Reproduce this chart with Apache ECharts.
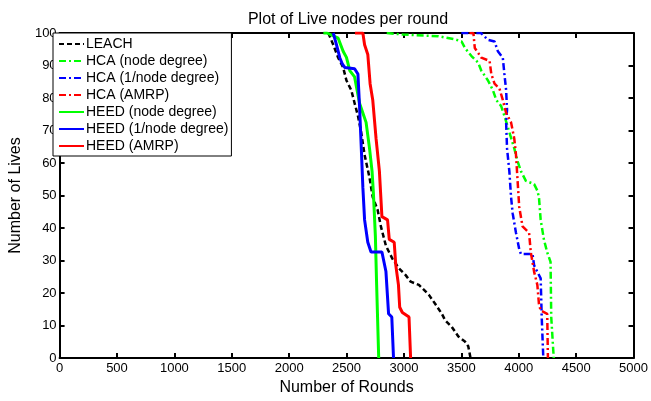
<!DOCTYPE html>
<html>
<head>
<meta charset="utf-8">
<script src="https://cdn.jsdelivr.net/npm/echarts@6/dist/echarts.min.js"></script>
<style>
html,body{margin:0;padding:0;background:#fff;}
#c{width:651px;height:401px;}
</style>
</head>
<body>
<div id="c"></div>
<script>
var seriesNames = ['LEACH','HCA (node degree)','HCA (1/node degree)','HCA (AMRP)','HEED (node degree)','HEED (1/node degree)','HEED (AMRP)'];
var xTicks = [0,500,1000,1500,2000,2500,3000,3500,4000,4500,5000];
var yTicks = [0,10,20,30,40,50,60,70,80,90,100];

var leach = [[2341,100],[2384,96.4],[2427,92.4],[2470,89.4],[2499,85.4],[2541,82.4],[2570,78.4],[2599,74.5],[2627,69.5],[2657,62.5],[2700,55.5],[2728,49.5],[2771,45.5],[2799,40.5],[2843,34.5],[2900,30.5],[2958,27.5],[3015,25.5],[3058,23.5],[3130,22.5],[3216,19.5],[3273,16.6],[3330,13.6],[3359,11.6],[3416,9.6],[3474,6.6],[3531,5.1],[3560,3.6],[3580,0]];
var hcaNode = [[2850,100],[3000,99.5],[3300,99],[3450,98],[3502,97.4],[3531,95.4],[3588,92.9],[3646,90.9],[3674,88.4],[3732,85.4],[3775,82.4],[3804,79.4],[3847,77.5],[3875,74.5],[3918,69.5],[3961,64.5],[3990,60.5],[4019,57.5],[4062,54.5],[4134,53.5],[4162,51.5],[4176,49.5],[4191,42.5],[4219,36.5],[4248,32.5],[4277,29.6],[4283,12.6],[4300,2.7],[4305,0]];
var hcaInv = [[3500,100],[3670,100],[3732,97.9],[3789,97.4],[3818,94.4],[3861,92.4],[3875,87.4],[3890,82.4],[3898,76.4],[3890,72.5],[3898,64.5],[3918,57.5],[3933,49.5],[3947,44.5],[3976,38.5],[4004,33.5],[4019,32],[4120,32],[4134,28.5],[4162,26.5],[4191,24.5],[4200,12.6],[4214,0]];
var hcaAmrp = [[3571,100],[3605,100],[3617,95.4],[3674,92.4],[3746,91.4],[3761,87.4],[3789,84.4],[3832,82.9],[3861,79.4],[3890,75.4],[3933,72.5],[3961,67.5],[3976,62.5],[3990,54.5],[4004,46.5],[4033,40.5],[4090,38.5],[4105,32.5],[4134,26.5],[4162,22.5],[4176,16.6],[4191,14.6],[4248,13.6],[4254,0]];
var heedNode = [[2298,100],[2330,100],[2427,98.4],[2470,94.4],[2499,92.5],[2528,88.4],[2570,86.5],[2613,78.4],[2642,75.4],[2670,72.5],[2700,64.5],[2722,57.5],[2734,50.6],[2751,37.5],[2762,22.5],[2780,0]];
var heedInv = [[2384,100],[2412,96.4],[2441,92.4],[2464,90.4],[2484,89.4],[2570,89],[2599,87.4],[2613,77.5],[2627,65.6],[2642,52.5],[2657,42.5],[2685,35.6],[2713,32.6],[2808,32.6],[2843,26.6],[2866,13.6],[2894,12.6],[2909,0]];
var heedAmrp = [[2573,100],[2642,100],[2657,96.4],[2685,93.4],[2705,84.4],[2728,79.4],[2757,67.5],[2786,57.5],[2808,43.5],[2857,42.5],[2872,36.5],[2915,35.6],[2929,28.5],[2952,22.5],[2963,15.6],[2986,14],[3044,12.6],[3058,0]];

var dataSets = [leach,hcaNode,hcaInv,hcaAmrp,heedNode,heedInv,heedAmrp];
var colors = ['#000000','#00ff00','#0000ff','#ff0000','#00ff00','#0000ff','#ff0000'];
var dashDot = [7,3,2,3];
var types = [[5,3],dashDot,dashDot,dashDot,'solid','solid','solid'];
var widths = [2.5,2.5,2.5,2.5,3,3,3];

var FONT = 'Liberation Sans, Arial, sans-serif';
var chart = echarts.init(document.getElementById('c'), null, {renderer:'canvas'});

function axisCommon(showLabel){
  return {
    type:'value',
    axisLine:{show:true,onZero:false,lineStyle:{color:'#000',width:2}},
    axisTick:{show:true,inside:true,length:5,lineStyle:{color:'#000',width:2}},
    splitLine:{show:false},
    axisLabel:{show:showLabel,color:'#000',fontSize:13,fontFamily:FONT,margin:4,
      formatter:function(v){return String(v);}}
  };
}
var xb = axisCommon(true);
Object.assign(xb,{position:'bottom',min:xTicks[0],max:xTicks[xTicks.length-1],interval:xTicks[1]-xTicks[0],name:'Number of Rounds',nameLocation:'middle',nameGap:22,nameTextStyle:{color:'#000',fontSize:16,fontFamily:FONT}});
var xt = axisCommon(false);
Object.assign(xt,{position:'top',min:xTicks[0],max:xTicks[xTicks.length-1],interval:xTicks[1]-xTicks[0]});
var yl = axisCommon(true);
yl.axisLabel.margin = 3;
Object.assign(yl,{position:'left',min:yTicks[0],max:yTicks[yTicks.length-1],interval:yTicks[1]-yTicks[0],name:'Number of Lives',nameLocation:'middle',nameGap:32,nameTextStyle:{color:'#000',fontSize:16,fontFamily:FONT}});
var yr = axisCommon(false);
Object.assign(yr,{position:'right',min:yTicks[0],max:yTicks[yTicks.length-1],interval:yTicks[1]-yTicks[0]});

var series = dataSets.map(function(d,i){
  return {
    name:seriesNames[i], type:'line', data:d, xAxisIndex:0, yAxisIndex:0,
    symbol:'none', showSymbol:false, animation:false, clip:true,
    lineStyle:{color:colors[i],width:widths[i],type:types[i]},
    itemStyle:{color:colors[i]}
  };
});

chart.setOption({
  backgroundColor:'#ffffff',
  animation:false,
  title:{text:'Plot of Live nodes per round',left:343,textAlign:'center',top:7,
    textStyle:{color:'#000',fontSize:16,fontWeight:'normal',fontFamily:FONT}},
  grid:{left:53,right:17,top:33,bottom:34,containLabel:false},
  xAxis:[xb,xt],
  yAxis:[yl,yr],
  legend:{
    data:seriesNames, orient:'vertical', left:53, top:33,
    itemWidth:25, itemHeight:14, itemGap:3,
    padding:[4,3,3,5],
    itemStyle:{opacity:0,color:'rgba(0,0,0,0)',borderWidth:0},
    backgroundColor:'#ffffff', borderColor:'#000', borderWidth:1, borderRadius:0,
    textStyle:{color:'#000',fontSize:14,fontFamily:FONT,padding:[0,0,0,-3]},
    selectedMode:false
  },
  series:series
});
</script>
</body>
</html>
